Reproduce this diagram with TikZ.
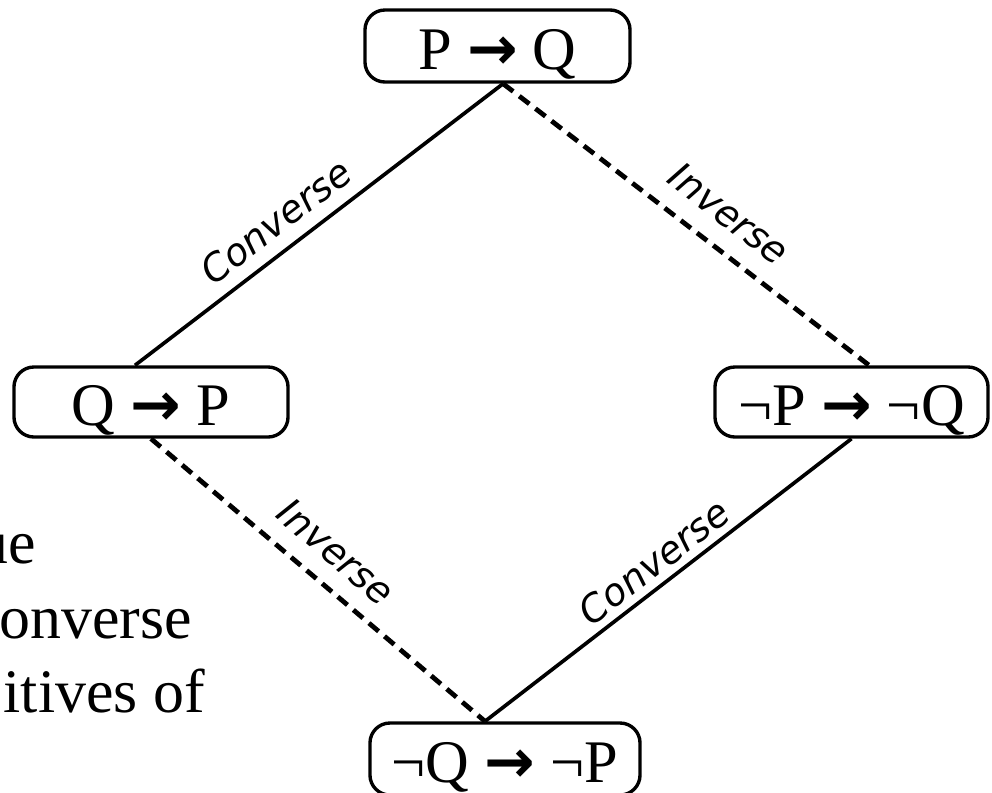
\documentclass[tikz,border=0pt]{standalone}
\usepackage{fontspec}
\setmainfont{Liberation Serif}
\newfontfamily\arrowfont{DejaVu Sans}
\newfontfamily\labelfont{DejaVu Sans}
\usetikzlibrary{positioning}

\newcommand{\imp}{{\arrowfont\bfseries →}}

\tikzset{
  stmt/.style={draw, line width=2.4pt, rounded corners=0.5cm, inner sep=0pt,
    font=\fontsize{43}{50}\selectfont, text height=34pt, text depth=0pt},
  convline/.style={line width=2.6pt},
  invline/.style={line width=3.4pt, dash pattern=on 9pt off 5.5pt},
  lbl/.style={sloped, anchor=south, inner sep=0pt, font=\labelfont\fontsize{27}{32}\selectfont\itshape},
  sidetext/.style={anchor=base east, inner sep=0pt, font=\fontsize{44}{52}\selectfont}
}

\begin{document}
\begin{tikzpicture}[x=0.025cm, y=-0.025cm]
  \useasboundingbox (0,0) rectangle (992,792);
  \clip (0,0) rectangle (992,792);

  % text of the slide behind the diagram
  \node[sidetext] (t1) at (36,563) {ue};
  \node[sidetext] (t2) at (192,638) {onverse};
  \node[sidetext] (t3) at (205,712) {itives of};

  % the four statements
  \node[stmt, minimum width=6.625cm, minimum height=1.8cm] (pq) at (497.5,46) {P \imp{} Q};
  \node[stmt, minimum width=6.85cm, minimum height=1.75cm] (qp) at (151,402) {Q \imp{} P};
  \node[stmt, minimum width=6.825cm, minimum height=1.75cm] (npnq) at (851.5,402) {¬P \imp{} ¬Q};
  \node[stmt, minimum width=6.75cm, minimum height=1.8cm] (nqnp) at (505,759) {¬Q \imp{} ¬P};

  % connectors
  \draw[convline] ([xshift=-0.4cm]qp.north) -- node[lbl, pos=0.43, yshift=9pt] {Converse} ([xshift=0.14cm]pq.south);
  \draw[invline] ([xshift=0.14cm]pq.south) -- node[lbl, pos=0.56, yshift=13pt] {Inverse} ([xshift=0.44cm]npnq.north);
  \draw[invline] (qp.south) -- node[lbl, pos=0.49, yshift=12pt] {Inverse} ([xshift=-0.5cm]nqnp.north);
  \draw[convline] ([xshift=-0.5cm]nqnp.north) -- node[lbl, pos=0.5, yshift=5pt] {Converse} (npnq.south);
\end{tikzpicture}
\end{document}
